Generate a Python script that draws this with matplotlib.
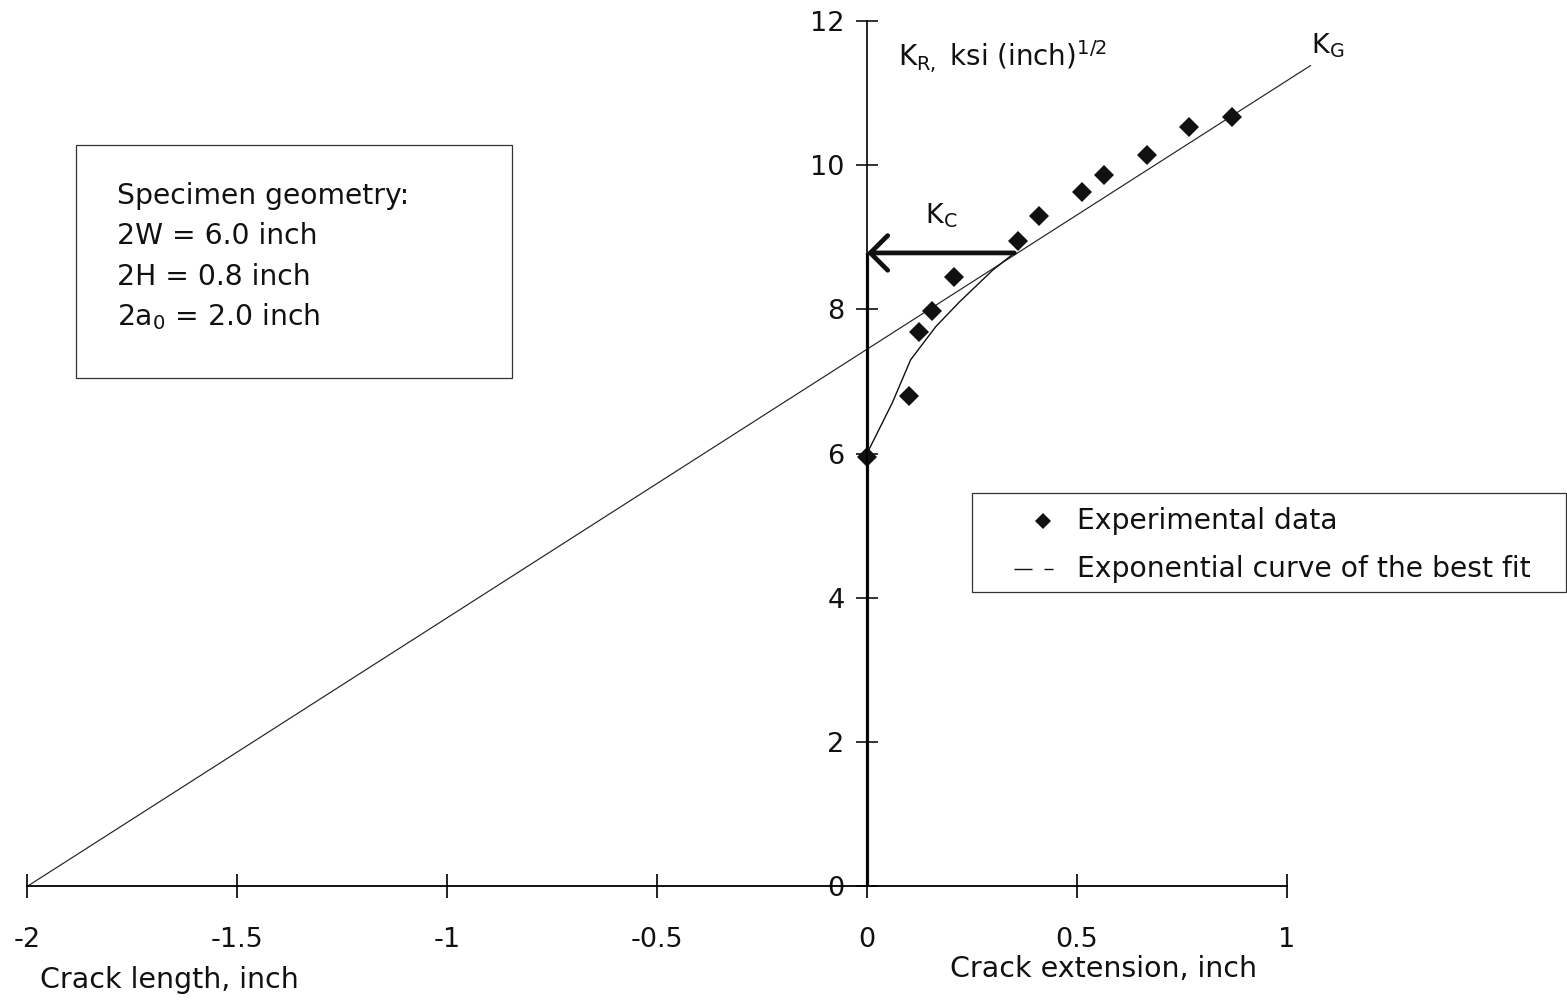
import matplotlib
matplotlib.use("Agg")
import matplotlib.pyplot as plt
from matplotlib.patches import Rectangle
from matplotlib.lines import Line2D

plt.rcParams['font.family'] = ['DejaVu Sans']
plt.rcParams['mathtext.fontset'] = 'dejavusans'

# Experimental R-curve points: crack extension (inch) vs K_R
ext_x = [0.0, 0.100, 0.124, 0.154, 0.206, 0.359, 0.410, 0.511, 0.564, 0.667, 0.767, 0.868]
kr_y = [5.95, 6.80, 7.68, 7.97, 8.44, 8.94, 9.29, 9.63, 9.86, 10.14, 10.53, 10.66]

# Best-fit exponential curve (sampled)
fit_x = [0.0, 0.06, 0.104, 0.164, 0.22, 0.299, 0.351]
fit_y = [6.0, 6.70, 7.30, 7.76, 8.10, 8.54, 8.78]

# Crack driving force line K_G, starting at the crack tip a = -2a0/2
kg_x = [-2.0, 1.057]
kg_y = [0.0, 11.38]

# Critical point (tangency of K_G and R-curve)
kc_ext = 0.351
kc_value = 8.78

x_ticks = [-2, -1.5, -1, -0.5, 0, 0.5, 1]
x_labels = ['-2', '-1.5', '-1', '-0.5', '0', '0.5', '1']
y_ticks = [0, 2, 4, 6, 8, 10, 12]
y_labels = ['0', '2', '4', '6', '8', '10', '12']

W, H = 1567, 1002
fig = plt.figure(figsize=(W / 100, H / 100), dpi=100)
ax = fig.add_axes([0, 0, 1, 1])
ax.set_xlim(-2.0643, 1.6667)
ax.set_ylim(-1.6006, 12.285)
ax.patch.set_visible(False)


def fig_xy(px, py):
    """Pixel position (from top-left) to figure fraction."""
    return px / W, 1 - py / H


# axes through the origin
for side in ('top', 'right'):
    ax.spines[side].set_visible(False)
ax.spines['left'].set_position(('data', 0))
ax.spines['bottom'].set_position(('data', 0))
ax.spines['left'].set_bounds(0, 12)
ax.spines['bottom'].set_bounds(-2, 1)
ax.spines['left'].set_linewidth(1.2)
ax.spines['bottom'].set_linewidth(1.3)

ax.set_xticks(x_ticks)
ax.set_xticklabels(x_labels)
ax.set_yticks(y_ticks)
ax.set_yticklabels(y_labels)
ax.tick_params(axis='x', direction='inout', length=17, width=1.3,
               pad=20.5, labelsize=19.5, colors='#111111')
ax.tick_params(axis='y', direction='inout', length=16, width=1.2,
               pad=8.2, labelsize=19.5, colors='#111111')

# K_G line
ax.plot(kg_x, kg_y, color='#222222', lw=0.85, solid_capstyle='butt')

# best-fit curve
ax.plot(fit_x, fit_y, color='#111111', lw=1.0)

# experimental data
ax.plot(ext_x, kr_y, linestyle='none', marker='D', markersize=10.5,
        color='#111111', markeredgewidth=0)

# thick lower part of the ordinate up to K_C, and the K_C arrow
ax.plot([0, 0], [0, kc_value], color='#111111', lw=2.3, solid_capstyle='butt')
ax.annotate('', xy=(0, kc_value), xytext=(kc_ext, kc_value),
            arrowprops=dict(arrowstyle='->,head_length=12.5,head_width=12.5',
                            mutation_scale=1, lw=3.4, color='#111111',
                            shrinkA=0, shrinkB=0))

# labels on the plot
fig.text(*fig_xy(898, 57), r'K$_\mathregular{R,}$ ksi (inch)$^\mathregular{1/2}$',
         fontsize=20, va='center', ha='left', color='#111111')
fig.text(*fig_xy(1311, 46), r'K$_\mathregular{G}$', fontsize=19.5,
         va='center', ha='left', color='#111111')
fig.text(*fig_xy(925, 216), r'K$_\mathregular{C}$', fontsize=19.5,
         va='center', ha='left', color='#111111')

fig.text(*fig_xy(40, 980), 'Crack length, inch', fontsize=20.5,
         va='center', ha='left', color='#111111')
fig.text(*fig_xy(950, 969), 'Crack extension, inch', fontsize=20.5,
         va='center', ha='left', color='#111111')

# specimen geometry box
x0, y0 = fig_xy(76, 378)
x1, y1 = fig_xy(512, 145)
fig.add_artist(Rectangle((x0, y0), x1 - x0, y1 - y0, transform=fig.transFigure,
                         fill=False, edgecolor='#333333', lw=0.9))
spec_lines = ['Specimen geometry:', '2W = 6.0 inch', '2H = 0.8 inch',
              r'2a$_\mathregular{0}$ = 2.0 inch']
for i, line in enumerate(spec_lines):
    fig.text(*fig_xy(117, 196 + 40.3 * i), line, fontsize=20.3,
             va='center', ha='left', color='#111111')

# legend box
x0, y0 = fig_xy(972, 592)
x1, y1 = fig_xy(1566, 493)
fig.add_artist(Rectangle((x0, y0), x1 - x0, y1 - y0, transform=fig.transFigure,
                         fill=False, edgecolor='#333333', lw=0.9))
mx, my = fig_xy(1043, 521)
fig.add_artist(Line2D([mx], [my], marker='D', markersize=8.5, color='#111111',
                      markeredgewidth=0, transform=fig.transFigure))
fig.text(*fig_xy(1077, 521), 'Experimental data', fontsize=20.3,
         va='center', ha='left', color='#111111')
lx0, ly = fig_xy(1014, 569)
lx1, _ = fig_xy(1053, 569)
fig.add_artist(Line2D([lx0, lx1], [ly, ly], color='#111111', lw=1.0,
                      dashes=(13, 8.6), transform=fig.transFigure))
fig.text(*fig_xy(1077, 569), 'Exponential curve of the best fit', fontsize=20.3,
         va='center', ha='left', color='#111111')

fig.savefig('out.png', dpi=100)
